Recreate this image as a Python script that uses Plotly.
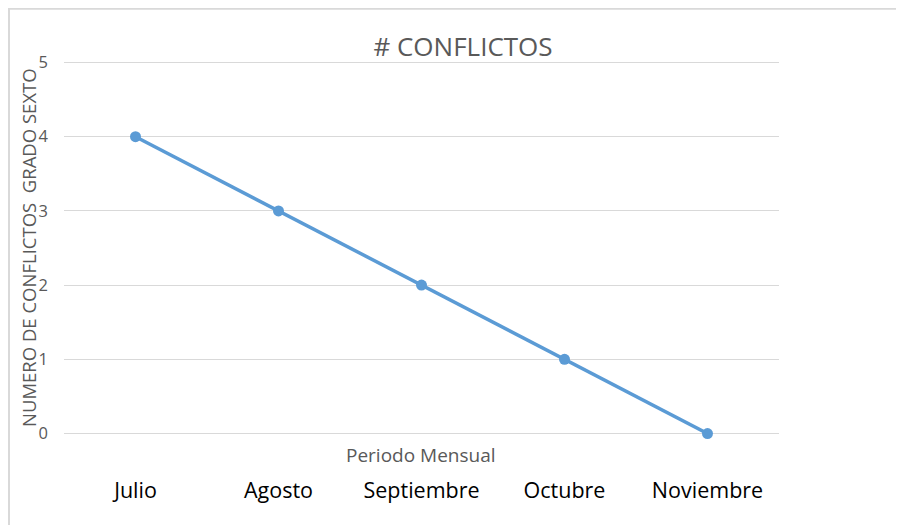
import plotly.graph_objects as go

meses = ["Julio", "Agosto", "Septiembre", "Octubre", "Noviembre"]
conflictos = [4, 3, 2, 1, 0]
y_ticks = [0, 1, 2, 3, 4, 5]

FONT = "Open Sans"
GRAY = "#595959"
OFF = 8  # page body margin

# target plot area on screen: x 64..779, y 62..434 (with small pad for edge gridlines)
PAD = 0.02
UNIT = 372 / 5
L, R = 64 - OFF, 904 - (779 - OFF)
T = int(round(62 - PAD * UNIT)) - OFF
B = 525 - int(round(434 + PAD * UNIT)) + OFF
PW, PH = 715, 372

fig = go.Figure()
fig.add_trace(go.Scatter(
    x=meses, y=conflictos, mode="lines+markers",
    line=dict(color="#5B9BD5", width=3.5),
    marker=dict(color="#5B9BD5", size=11),
    showlegend=False, hoverinfo="skip", cliponaxis=False,
))

fig.update_layout(
    width=904, height=525,
    margin=dict(l=L, r=R, t=T, b=B, autoexpand=False),
    paper_bgcolor="white", plot_bgcolor="white",
    font=dict(family=FONT, color=GRAY),
    title=dict(text="# CONFLICTOS", x=(463 - OFF) / 904, xanchor="center",
               y=1 - (47 - OFF) / 525, yanchor="middle",
               font=dict(family=FONT, size=26, color=GRAY)),
    xaxis=dict(type="category", range=[-0.5, 4.5], showgrid=False,
               showline=False, zeroline=False, ticks="", automargin=False,
               tickfont=dict(family=FONT, size=21.5, color="black"),
               ticklabelstandoff=40),
    yaxis=dict(range=[-PAD, 5 + PAD], tickvals=y_ticks, showgrid=True,
               gridcolor="#D9D9D9", gridwidth=1, zeroline=False,
               showline=False, ticks="", automargin=False,
               tickfont=dict(family=FONT, size=16.5, color=GRAY),
               ticklabelstandoff=15),
    shapes=[dict(type="rect", xref="paper", yref="paper",
                 x0=(9 - 64) / PW, x1=1.4, y0=-0.5, y1=(434 - 10) / PH,
                 line=dict(color="#D9D9D9", width=2), layer="below")],
    annotations=[
        dict(text="Periodo Mensual", xref="paper", yref="paper",
             x=(421 - 64) / PW, y=(434 - 454) / PH, xanchor="center", yanchor="middle",
             showarrow=False, font=dict(family=FONT, size=19, color=GRAY)),
        dict(text="NUMERO DE CONFLICTOS\u00a0\u00a0GRADO SEXTO", xref="paper", yref="paper",
             x=(28 - 64) / PW, y=0.5, xanchor="center", yanchor="middle",
             textangle=-90, showarrow=False,
             font=dict(family=FONT, size=18.5, color=GRAY)),
    ],
)

fig.write_html("out.html")
